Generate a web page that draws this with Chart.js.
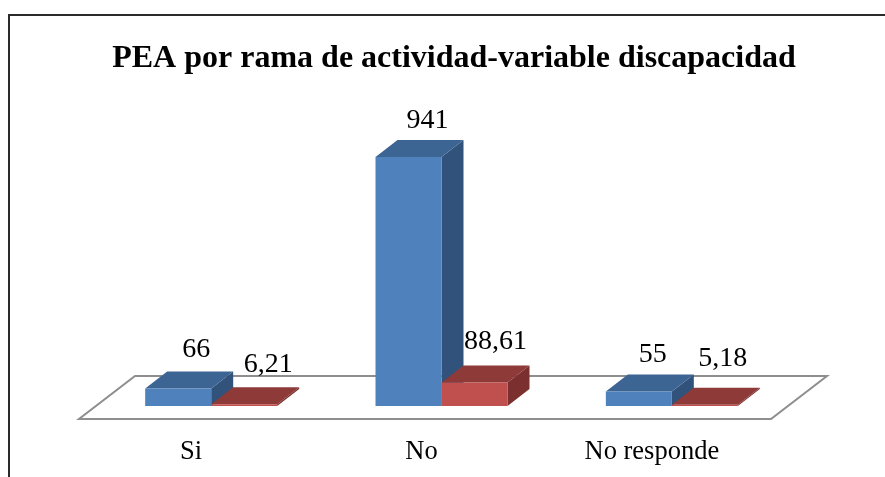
<!DOCTYPE html>
<html><head><meta charset="utf-8">
<style>html,body{margin:0;padding:0;background:#fff;overflow:hidden;width:885px;height:477px}canvas{display:block}</style>
<script src="https://cdn.jsdelivr.net/npm/chart.js@4"></script>
</head><body><canvas id="c" width="885" height="477"></canvas>
<script>
const categories = ["Si", "No", "No responde"];
const frecuencia = [66, 941, 55];
const porcentaje = [6.21, 88.61, 5.18];
const titleText = "PEA por rama de actividad-variable discapacidad";

const DEPTH_X = 22, DEPTH_Y = 17;
const FACES = [
  {front:"#4f81bd", top:"#3d6594", side:"#31527a"},
  {front:"#c0504d", top:"#8e3a38", side:"#7b2f2e"}
];
// label offsets from the bar's back-top edge centre [dx, gap above]
const labelNudge = [
  [[-4,15],[-3,12],[-8,12]],
  [[2,15],[-1,17],[-4,22]]
];
const SERIF = '"Liberation Serif","Times New Roman",serif';

function poly(ctx, pts, fill){
  ctx.beginPath();
  pts.forEach((p,i)=> i?ctx.lineTo(p[0],p[1]):ctx.moveTo(p[0],p[1]));
  ctx.closePath();
  ctx.fillStyle = fill; ctx.fill();
}
const scene = {
  id:"scene",
  beforeDraw(chart){
    const c = chart.ctx;
    c.save();
    c.strokeStyle="#2a2a2a"; c.lineWidth=2;
    c.beginPath(); c.moveTo(9,478); c.lineTo(9,15); c.lineTo(886,15); c.stroke();
    c.restore();
  },
  beforeDatasetsDraw(chart){
    const c = chart.ctx, a = chart.chartArea, base = chart.scales.y.getPixelForValue(0);
    c.save();
    c.strokeStyle="#8e8e8e"; c.lineWidth=2; c.lineJoin="miter";
    c.beginPath();
    c.moveTo(a.left-17, base+13);
    c.lineTo(a.right-16, base+13);
    c.lineTo(a.right+40, base-30);
    c.lineTo(a.left+39, base-30);
    c.closePath(); c.stroke();
    chart.data.datasets.forEach((ds,di)=>{
      chart.getDatasetMeta(di).data.forEach(bar=>{
        const l=bar.x-bar.width/2, r=bar.x+bar.width/2, t=bar.y, b=bar.base, f=FACES[di];
        poly(c,[[r,b],[r+DEPTH_X,b-DEPTH_Y],[r+DEPTH_X,t-DEPTH_Y],[r,t]],f.side);
        poly(c,[[l,t],[r,t],[r+DEPTH_X,t-DEPTH_Y],[l+DEPTH_X,t-DEPTH_Y]],f.top);
      });
    });
    c.restore();
  },
  afterDatasetsDraw(chart){
    const c = chart.ctx;
    c.save();
    c.font = '28px '+SERIF; c.fillStyle="#000"; c.textAlign="center"; c.textBaseline="alphabetic";
    chart.data.datasets.forEach((ds,di)=>{
      chart.getDatasetMeta(di).data.forEach((bar,i)=>{
        const n = labelNudge[di][i];
        c.fillText(String(ds.data[i]).replace(".",","), bar.x+DEPTH_X+n[0], bar.y-DEPTH_Y-n[1]);
      });
    });
    c.restore();
  }
};
new Chart(document.getElementById("c"),{
  type:"bar",
  plugins:[scene],
  data:{labels:categories,datasets:[
    {label:"Frecuencia",data:frecuencia,backgroundColor:FACES[0].front},
    {label:"Porcentaje",data:porcentaje,backgroundColor:FACES[1].front}
  ]},
  options:{
    responsive:false,animation:false,
    layout:{padding:{left:96,right:73,top:0,bottom:11}},
    datasets:{bar:{categoryPercentage:0.573,barPercentage:1}},
    plugins:{
      legend:{display:false},tooltip:{enabled:false},
      title:{display:true,text:titleText,color:"#000",
        font:{family:SERIF,size:32,weight:"bold"},
        padding:{top:40,bottom:63}}
    },
    scales:{
      y:{position:"right",min:0,max:1000,grid:{display:false},border:{display:false},ticks:{display:false},
        afterFit(s){s.width=25;}},
      x:{grid:{display:false,drawTicks:false},border:{display:false},
        afterFit(s){s.height=60;},
        ticks:{color:"#000",font:{family:SERIF,size:26.5},padding:30,labelOffset:-20,maxRotation:0,autoSkip:false}}
    }
  }
});
</script></body></html>
